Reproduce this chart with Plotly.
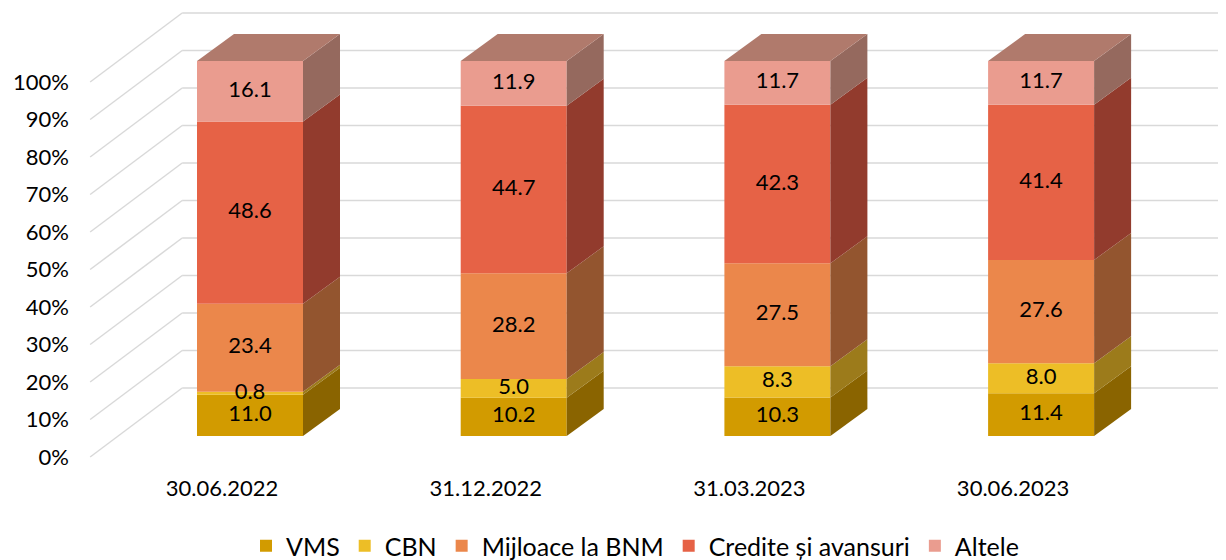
import plotly.graph_objects as go

# ---------------- data ----------------
categories = ["30.06.2022", "31.12.2022", "31.03.2023", "30.06.2023"]
series_names = ["VMS", "CBN", "Mijloace la BNM", "Credite și avansuri", "Altele"]
vms = [11.0, 10.2, 10.3, 11.4]
cbn = [0.8, 5.0, 8.3, 8.0]
mijloace = [23.4, 28.2, 27.5, 27.6]
credite = [48.6, 44.7, 42.3, 41.4]
altele = [16.1, 11.9, 11.7, 11.7]
tick_values = [0, 10, 20, 30, 40, 50, 60, 70, 80, 90, 100]
tick_labels = [f"{v}%" for v in tick_values]

series_values = [vms, cbn, mijloace, credite, altele]

# ---------------- styles ----------------
front_colors = ["#D29B00", "#EDBE26", "#EB874B", "#E66246", "#EA9C8F"]
side_colors = ["#8A6400", "#9C7B1B", "#93552F", "#923B2D", "#95695E"]
top_color = "#B07A6C"
grid_color = "#D9D9D9"
FONT = "Lato"
FS = 22
LEG_FS = 25

OFF = 8  # page body margin of the browser
W, H = 1226 - OFF, 560 - OFF
ML, MR, MT = 78 - OFF, 0, 0
PLOT_BOTTOM = 473 - OFF
MB = H - PLOT_BOTTOM
PX_PER_CAT = 263.7
PX_PER_PCT = 3.75
FRONT_X0_PX = 222 - OFF  # pixel of category 0 on the front plane
FRONT_Y0_PX = 457 - OFF  # pixel of 0% on the front plane

# projection offsets (px converted to data units)
FLOOR_DX, FLOOR_DY = 92 / PX_PER_CAT, 69 / PX_PER_PCT
BAR_DX, BAR_DY = 28 / PX_PER_CAT, 21 / PX_PER_PCT
DEPTH_DX, DEPTH_DY = 37 / PX_PER_CAT, 27 / PX_PER_PCT
BAR_W = 106 / PX_PER_CAT

x_min = (ML - FRONT_X0_PX) / PX_PER_CAT
x_max = (W - MR - FRONT_X0_PX) / PX_PER_CAT
y_min = (FRONT_Y0_PX - PLOT_BOTTOM) / PX_PER_PCT
y_max = (FRONT_Y0_PX - MT) / PX_PER_PCT

n = len(categories)
totals = [sum(s[i] for s in series_values) for i in range(n)]
norm = [[s[i] / totals[i] * 100 for i in range(n)] for s in series_values]

fig = go.Figure()

# front faces (bars)
cum = [0.0] * n
bases = []
for k, name in enumerate(series_names):
    bases.append(list(cum))
    fig.add_trace(go.Bar(
        x=[i + BAR_DX for i in range(n)],
        y=norm[k],
        base=[c + BAR_DY for c in cum],
        width=BAR_W,
        name=name,
        marker=dict(color=front_colors[k], line=dict(width=0)),
        hoverinfo="skip",
    ))
    cum = [cum[i] + norm[k][i] for i in range(n)]

# side faces and top faces
for k in range(len(series_names)):
    for i in range(n):
        xr = i + BAR_DX + BAR_W / 2
        yb = bases[k][i] + BAR_DY
        yt = yb + norm[k][i]
        fig.add_trace(go.Scatter(
            x=[xr, xr + DEPTH_DX, xr + DEPTH_DX, xr, xr],
            y=[yb, yb + DEPTH_DY, yt + DEPTH_DY, yt, yb],
            fill="toself", fillcolor=side_colors[k], mode="lines",
            line=dict(width=0, color=side_colors[k]),
            showlegend=False, hoverinfo="skip",
        ))
for i in range(n):
    xl = i + BAR_DX - BAR_W / 2
    xr = i + BAR_DX + BAR_W / 2
    yt = cum[i] + BAR_DY
    fig.add_trace(go.Scatter(
        x=[xl, xl + DEPTH_DX, xr + DEPTH_DX, xr, xl],
        y=[yt, yt + DEPTH_DY, yt + DEPTH_DY, yt, yt],
        fill="toself", fillcolor=top_color, mode="lines",
        line=dict(width=0, color=top_color),
        showlegend=False, hoverinfo="skip",
    ))

# data labels
tx, ty, tt = [], [], []
for k in range(len(series_names)):
    for i in range(n):
        tx.append(i + BAR_DX)
        ty.append(bases[k][i] + norm[k][i] / 2 + BAR_DY)
        tt.append(f"{series_values[k][i]:.1f}")
fig.add_trace(go.Scatter(
    x=tx, y=ty, text=tt, mode="text",
    textfont=dict(family=FONT, size=FS, color="#000000"),
    showlegend=False, hoverinfo="skip",
))

# 3D gridlines (front diagonal + back wall)
shapes = []
floor_x = -0.5
for t in tick_values:
    shapes.append(dict(type="line", xref="x", yref="y", layer="below",
                       x0=floor_x, y0=t, x1=floor_x + FLOOR_DX, y1=t + FLOOR_DY,
                       line=dict(color=grid_color, width=1.5)))
    shapes.append(dict(type="line", xref="x", yref="y", layer="below",
                       x0=floor_x + FLOOR_DX, y0=t + FLOOR_DY, x1=x_max, y1=t + FLOOR_DY,
                       line=dict(color=grid_color, width=1.5)))

fig.update_layout(
    width=W, height=H,
    margin=dict(l=ML, r=MR, t=MT, b=MB),
    paper_bgcolor="white", plot_bgcolor="white",
    barmode="overlay",
    shapes=shapes,
    font=dict(family=FONT, size=FS, color="#000000"),
    xaxis=dict(range=[x_min, x_max], tickvals=list(range(n)), ticktext=categories,
               showgrid=False, zeroline=False, showline=False, ticks="",
               tickfont=dict(family=FONT, size=FS), fixedrange=True),
    yaxis=dict(range=[y_min, y_max], tickvals=tick_values, ticktext=tick_labels,
               showgrid=False, zeroline=False, showline=False, ticks="",
               ticklabelstandoff=8,
               tickfont=dict(family=FONT, size=FS), fixedrange=True),
    legend=dict(orientation="h", xref="container", yref="container",
                x=(635 - OFF) / W, y=(560 - 546) / H, xanchor="center", yanchor="middle",
                font=dict(family=FONT, size=LEG_FS), traceorder="normal",
                itemwidth=30, tracegroupgap=0),
    showlegend=True,
)

fig.write_html("out.html")
